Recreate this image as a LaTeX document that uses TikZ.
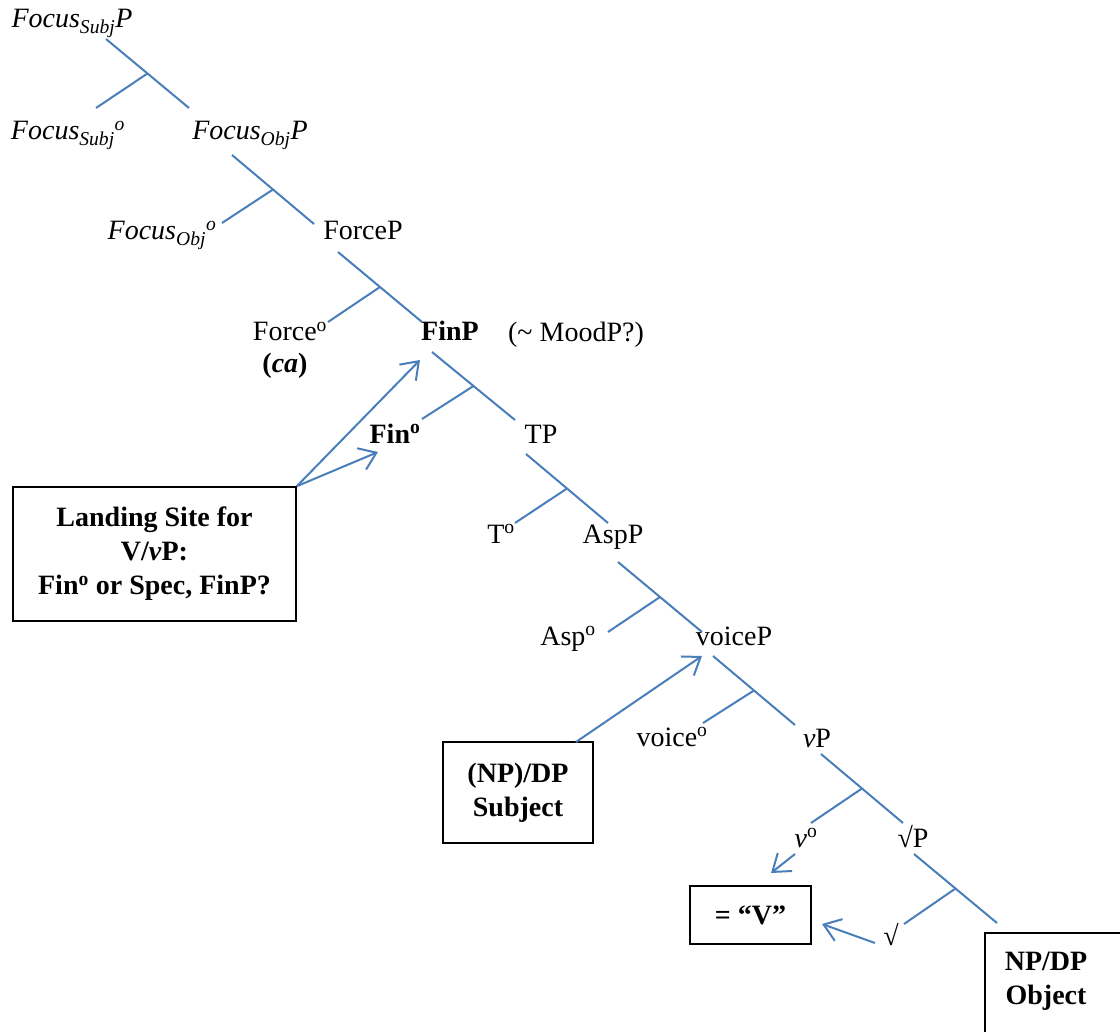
\documentclass[tikz,border=0pt]{standalone}
\usepackage{fontspec}
\setmainfont{Liberation Serif}
\usetikzlibrary{arrows.meta,calc}
\definecolor{treeblue}{RGB}{74,126,187}
\begin{document}
\begin{tikzpicture}[x=1pt,y=-1pt,
  lbl/.style={font=\fontsize{28}{33}\selectfont, inner sep=0pt, anchor=base},
  br/.style={treeblue, line width=2pt},
  mv/.style={treeblue, line width=2pt, -{Straight Barb[length=16pt,width=23pt]}},
  bx/.style={draw=black, line width=1.5pt, inner sep=0pt, align=center, font=\fontsize{28}{34}\selectfont\bfseries}]
\useasboundingbox (0,0) rectangle (1120,1032);
\clip (0,0) rectangle (1120,1032);
% labels
\node[lbl] (fsp) at (72,28) {\textit{Focus\textsubscript{Subj}P}};
\node[lbl] (fs0) at (68,140) {\textit{Focus\textsubscript{Subj}\textsuperscript{o}}};
\node[lbl] (fop) at (250,140) {\textit{Focus\textsubscript{Obj}P}};
\node[lbl] (fo0) at (162,240) {\textit{Focus\textsubscript{Obj}\textsuperscript{o}}};
\node[lbl] (forcep) at (363,240) {ForceP};
\node[lbl] (force0) at (290,341) {Force\textsuperscript{o}};
\node[lbl] (ca) at (285,373) {\textbf{(\textit{ca})}};
\node[lbl] (finp) at (450,341) {\textbf{FinP}};
\node[lbl] (mood) at (576,342) {(\textasciitilde{} MoodP?)};
\node[lbl] (fin0) at (395,443) {\textbf{Fin\textsuperscript{o}}};
\node[lbl] (tp) at (541,443) {TP};
\node[lbl] (t0) at (501,543) {T\textsuperscript{o}};
\node[lbl] (aspp) at (613,543) {AspP};
\node[lbl] (asp0) at (568,645) {Asp\textsuperscript{o}};
\node[lbl] (voicep) at (734,645) {voiceP};
\node[lbl] (voice0) at (672,746) {voice\textsuperscript{o}};
\node[lbl] (vp) at (817,747) {\textit{v}P};
\node[lbl] (v0) at (806,847) {\textit{v}\textsuperscript{o}};
\node[lbl] (rootp) at (913,847) {√P};
\node[lbl] (root) at (891,945) {√};
% boxes
\node[bx, minimum width=283pt, minimum height=134pt] (land) at (154.5,554) {Landing Site for\\V/\textit{v}P:\\Fin\textsuperscript{o} or Spec, FinP?};
\node[bx, minimum width=150pt, minimum height=101pt] (subj) at (518,792.5) {(NP)/DP\\Subject};
\node[bx, minimum width=121pt, minimum height=58pt] (vbox) at (750.5,915) {= “V”};
\node[draw=black, line width=1.5pt, inner sep=0pt, anchor=north west, minimum width=220pt, minimum height=160pt] (obj) at (984,932) {};
\node[lbl, font=\fontsize{28}{34}\selectfont\bfseries, align=center] (objtxt) at (1046,1004) {NP/DP\\Object};
% tree branches
\foreach \n/\sx/\sy/\ex/\ey/\cx/\cy in {
  1/106/39/189/108/96/108,
  2/232/155/314/224/222/223,
  3/338/252/422/322/328/322,
  4/432/352/515/420/422/419,
  5/526/454/608/523/515/523,
  6/618/562/702/632/608/632,
  7/713/656/795/725/703/723,
  8/821/754/903/823/811/823,
  9/914/854/997/923/904/924}{
  \coordinate (s\n) at (\sx,\sy);
  \coordinate (e\n) at (\ex,\ey);
  \coordinate (c\n) at (\cx,\cy);
  \coordinate (m\n) at ($(s\n)!0.5!(e\n)$);
  \draw[br] (s\n) -- (e\n);
  \draw[br] (m\n) -- (c\n);
}
% movement arrows
\coordinate (finptip) at (420,360);
\coordinate (fin0tip) at (378,452);
\coordinate (voicetip) at (702,656);
\coordinate (subjstart) at (576,742);
\coordinate (v0start) at (795,854);
\coordinate (vboxtip1) at (771,873);
\coordinate (rootstart) at (875,943);
\coordinate (vboxtip2) at (822,924);
\draw[mv] (land.north east) -- (finptip);
\draw[mv] (land.north east) -- (fin0tip);
\draw[mv] (subjstart) -- (voicetip);
\draw[mv] (v0start) -- (vboxtip1);
\draw[mv] (rootstart) -- (vboxtip2);
\end{tikzpicture}
\end{document}
